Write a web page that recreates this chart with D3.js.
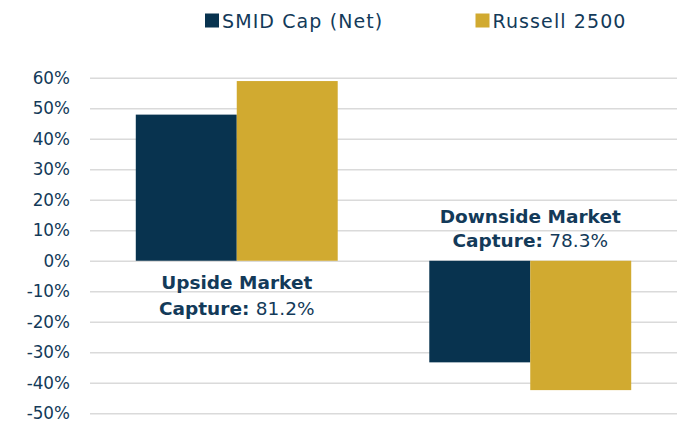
<!DOCTYPE html>
<html>
<head>
<meta charset="utf-8">
<script src="https://cdn.jsdelivr.net/npm/d3@7"></script>
<style>
  html, body { margin: 0; padding: 0; background: #ffffff; }
  svg { display: block; }
  text { font-family: "DejaVu Sans", sans-serif; }
</style>
</head>
<body>
<svg id="chart" width="677" height="424"></svg>
<script>
// ---- Data ----
const categories = ["Upside", "Downside"];
const seriesNames = ["SMID Cap (Net)", "Russell 2500"];
const smidValues = [47.9, -33.3];
const russellValues = [58.9, -42.4];
const yTicks = [-50, -40, -30, -20, -10, 0, 10, 20, 30, 40, 50, 60];
const captureTitles = ["Upside Market", "Downside Market"];
const captureValues = ["81.2%", "78.3%"];

(function () {
const colors = ["#08334f", "#d1aa30"];
const textColor = "#133a59";

const svg = d3.select("#chart");
const plotLeft = 90, plotRight = 677, plotTop = 77.7, plotBottom = 413.3;

const x = d3.scaleBand().domain(categories).range([plotLeft, plotRight])
  .paddingInner(0.312).paddingOuter(0.156);
const xs = d3.scaleBand().domain(seriesNames).range([0, x.bandwidth()]).padding(0);
const y = d3.scaleLinear().domain([-50, 60]).range([plotBottom, plotTop]);

// gridlines
const grid = svg.append("g").attr("transform", `translate(${plotLeft},0)`)
  .call(d3.axisLeft(y).tickValues(yTicks).tickSize(-(plotRight - plotLeft)).tickFormat(""));
grid.select(".domain").remove();
grid.selectAll("line").attr("stroke", "#dadada").attr("stroke-width", 1.6);

// y axis labels
const yAxis = svg.append("g").attr("transform", `translate(${plotLeft},0)`)
  .call(d3.axisLeft(y).tickValues(yTicks).tickSize(0).tickPadding(20).tickFormat(d => d + "%"));
yAxis.select(".domain").remove();
yAxis.selectAll("text").attr("fill", textColor).style("font-size", "16.8px")
  .style("font-family", "'DejaVu Sans', sans-serif");

// bars
const rows = categories.map((c, i) => ({ cat: c, vals: [smidValues[i], russellValues[i]] }));
const groups = svg.append("g").selectAll("g").data(rows).join("g")
  .attr("transform", d => `translate(${x(d.cat)},0)`);
groups.selectAll("rect").data(d => d.vals.map((v, j) => ({ v, s: seriesNames[j], j })))
  .join("rect")
  .attr("x", d => xs(d.s))
  .attr("width", xs.bandwidth())
  .attr("y", d => Math.min(y(d.v), y(0)))
  .attr("height", d => Math.abs(y(d.v) - y(0)))
  .attr("fill", d => colors[d.j]);

// capture annotations
const y0 = y(0);
const ann = svg.append("g");
categories.forEach((c, i) => {
  const cx = x(c) + x.bandwidth() / 2;
  const up = smidValues[i] >= 0;
  const b1 = up ? y0 + 28 : y0 - 38;
  const b2 = up ? y0 + 54 : y0 - 13.5;
  ann.append("text").attr("x", cx).attr("y", b1).attr("text-anchor", "middle")
    .attr("fill", textColor).style("font-size", "18.5px").style("font-weight", "700")
    .text(captureTitles[i]);
  const t = ann.append("text").attr("x", cx).attr("y", b2).attr("text-anchor", "middle")
    .attr("fill", textColor).style("font-size", "18.5px");
  t.append("tspan").style("font-weight", "700").text("Capture: ");
  t.append("tspan").style("font-weight", "400").text(captureValues[i]);
});

// legend
const legendX = [205, 475.5];
const legend = svg.append("g");
seriesNames.forEach((s, i) => {
  legend.append("rect").attr("x", legendX[i]).attr("y", 13.5).attr("width", 14).attr("height", 14)
    .attr("fill", colors[i]);
  legend.append("text").attr("x", legendX[i] + 17).attr("y", 28)
    .attr("fill", textColor).style("font-size", "19px").style("letter-spacing", "1.1px").text(s);
});
})();
</script>
</body>
</html>
